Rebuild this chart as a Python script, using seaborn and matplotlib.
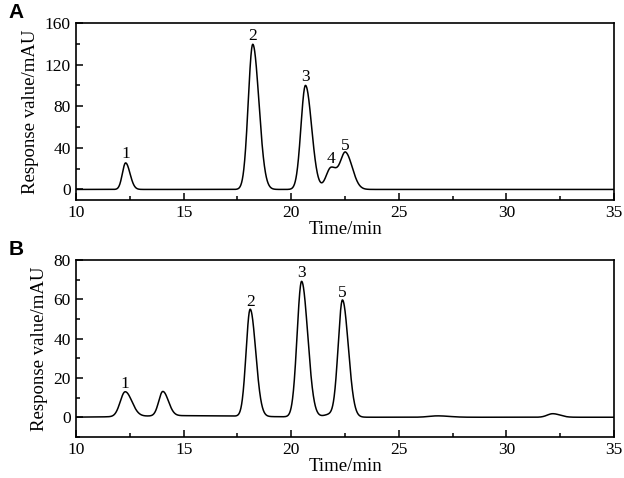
import numpy as np
import pandas as pd
import matplotlib.pyplot as plt
import seaborn as sns
from matplotlib.ticker import MultipleLocator

# Peak tables (retention time, height, width)
a_times = [12.3, 18.21, 20.66, 21.85, 22.53]
a_heights = [25.5, 139.5, 100.0, 21.0, 34.0]
a_widths = [0.15, 0.21, 0.21, 0.23, 0.23]
a_labels = ['1', '2', '3', '4', '5']

b_times = [12.28, 14.03, 18.09, 20.48, 21.85, 22.38, 26.8, 32.15, 15.0]
b_heights = [12.6, 12.4, 54.5, 69.0, 1.5, 59.0, 0.7, 1.8, 0.8]
b_widths = [0.23, 0.19, 0.19, 0.21, 0.3, 0.2, 0.4, 0.25, 2.2]
b_labels = ['1', '', '2', '3', '', '5', '', '', '']

tail = 1.35  # right side of each peak is a bit broader


def trace(times, heights, widths):
    t = np.linspace(10, 35, 3001)
    y = np.zeros_like(t)
    for rt, h, w in zip(times, heights, widths):
        s = np.where(t < rt, w, w * tail)
        y += h * np.exp(-0.5 * ((t - rt) / s) ** 2)
    return pd.DataFrame({'Time': t, 'Response': y})


sns.set_theme(style='ticks')
plt.rcParams['font.family'] = ['Liberation Serif', 'DejaVu Serif']
plt.rcParams['xtick.direction'] = 'in'
plt.rcParams['ytick.direction'] = 'in'
plt.rcParams['axes.linewidth'] = 1.2
for key in ['text.color', 'axes.labelcolor', 'xtick.color', 'ytick.color',
            'axes.edgecolor', 'xtick.labelcolor', 'ytick.labelcolor']:
    plt.rcParams[key] = 'black'

fig, axes = plt.subplots(2, 1, figsize=(6.24, 4.78), dpi=100)
fig.subplots_adjust(left=0.122, right=0.984, top=0.952, bottom=0.086, hspace=0.34)

panels = [
    (axes[0], a_times, a_heights, a_widths, a_labels, (-10, 160), 40, 20, 'A'),
    (axes[1], b_times, b_heights, b_widths, b_labels, (-10, 80), 20, 10, 'B'),
]
for ax, times, heights, widths, labels, ylim, ymaj, ymin, tag in panels:
    df = trace(times, heights, widths)
    sns.lineplot(data=df, x='Time', y='Response', ax=ax, color='black', linewidth=1.1)
    for rt, h, lab in zip(times, heights, labels):
        if lab:
            ax.text(rt, h + (ylim[1] - ylim[0]) * 0.003, lab, ha='center', va='bottom', fontsize=12.5)
    ax.set_xlim(10, 35)
    ax.set_ylim(*ylim)
    ax.xaxis.set_major_locator(MultipleLocator(5))
    ax.xaxis.set_minor_locator(MultipleLocator(2.5))
    ax.yaxis.set_major_locator(MultipleLocator(ymaj))
    ax.yaxis.set_minor_locator(MultipleLocator(ymin))
    ax.tick_params(which='major', length=5, width=1.1, labelsize=12.5, pad=4)
    ax.tick_params(which='minor', length=3, width=1.1)
    ax.set_xlabel('Time/min', fontsize=13.5, labelpad=0)
    ax.set_ylabel('Response value/mAU', fontsize=13.5, labelpad=4)
    ax.text(-0.125, 1.06, tag, transform=ax.transAxes, fontsize=15, fontweight='bold',
            family='Liberation Sans', ha='left', va='center')

plt.savefig('out.png', dpi=100)
plt.close()
